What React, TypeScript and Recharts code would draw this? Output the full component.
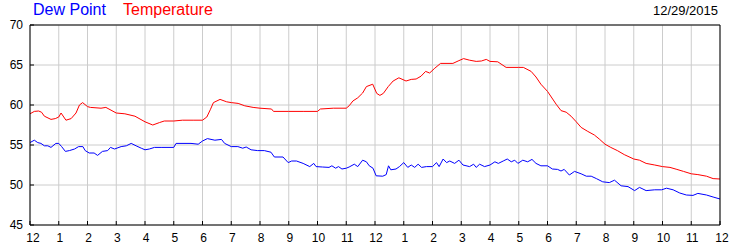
import React from 'react';
import { LineChart, Line, XAxis, YAxis, CartesianGrid } from 'recharts';

// hours after midnight, readings in °F
const tempHours = [
  0, 0.15, 0.3, 0.4, 0.5, 0.73, 0.88, 1.0, 1.08, 1.25, 1.43, 1.6, 1.72, 1.83, 2.0, 2.1, 2.47, 2.64,
  3.0, 3.3, 3.65, 4.0, 4.27, 4.5, 4.67, 5.0, 5.3, 5.7, 6.0, 6.15, 6.27, 6.38, 6.61, 6.84, 7.0, 7.24,
  7.47, 7.76, 8.0, 8.4, 8.47, 9.0, 9.5, 10.0, 10.1, 10.55, 11.0, 11.1, 11.23, 11.4, 11.57, 11.7,
  11.92, 12.06, 12.17, 12.29, 12.46, 12.63, 12.83, 13.08, 13.26, 13.43, 13.6, 13.76, 13.9, 14.08,
  14.28, 14.71, 14.89, 15.08, 15.29, 15.52, 15.7, 15.87, 16.0, 16.27, 16.56, 17.0, 17.16, 17.43,
  17.6, 17.77, 18.0, 18.3, 18.47, 18.65, 18.82, 19.0, 19.17, 19.4, 19.63, 19.8, 20.0, 20.2, 20.43,
  20.67, 21.0, 21.2, 21.43, 21.73, 22.0, 22.26, 22.5, 22.73, 23.0, 23.23, 23.53, 23.76, 24.0,
];
const tempValues = [
  58.9, 59.2, 59.25, 59.1, 58.6, 58.2, 58.3, 58.5, 59.0, 58.1, 58.3, 59.0, 60.0, 60.3, 59.8, 59.7, 59.6, 59.7,
  59.0, 58.9, 58.6, 57.9, 57.5, 57.8, 58.0, 58.0, 58.1, 58.1, 58.1, 58.5, 59.4, 60.3, 60.7, 60.4, 60.3, 60.2,
  59.9, 59.7, 59.6, 59.5, 59.2, 59.2, 59.2, 59.2, 59.5, 59.6, 59.6, 59.9, 60.5, 60.9, 61.5, 62.3,
  62.6, 61.45, 61.2, 61.45, 62.3, 63.0, 63.4, 63.0, 63.2, 63.25, 63.6, 64.2, 64.0, 64.6,
  65.2, 65.2, 65.5, 65.8, 65.6, 65.45, 65.5, 65.7, 65.45, 65.4, 64.7, 64.7, 64.7, 64.2,
  63.5, 62.6, 61.7, 60.1, 59.3, 59.1, 58.6, 57.9, 57.2, 56.7, 56.25, 55.75, 55.1, 54.7, 54.3,
  53.8, 53.25, 53.1, 52.7, 52.5, 52.3, 52.2, 51.95, 51.7, 51.4, 51.3, 51.1, 50.8, 50.75,
];

const dewHours = [
  0, 0.15, 0.27, 0.38, 0.5, 0.62, 0.73, 0.9, 1.0, 1.1, 1.23, 1.37, 1.55, 1.69, 1.84, 1.92, 2.06, 2.23,
  2.35, 2.52, 2.7, 2.8, 2.94, 3.17, 3.35, 3.52, 3.69, 3.87, 4.0, 4.15, 4.33, 4.56, 5.0, 5.08, 5.6,
  5.85, 6.0, 6.17, 6.43, 6.66, 6.77, 7.0, 7.23, 7.4, 7.52, 7.69, 7.92, 8.15, 8.38, 8.5, 8.8, 8.98,
  9.1, 9.27, 9.5, 9.73, 9.87, 9.95, 10.17, 10.4, 10.5, 10.63, 10.73, 10.85, 11.0, 11.1, 11.28, 11.4,
  11.57, 11.7, 11.8, 11.93, 12.04, 12.27, 12.39, 12.47, 12.55, 12.73, 12.85, 13.0, 13.14, 13.26,
  13.38, 13.5, 13.62, 13.79, 14.0, 14.14, 14.23, 14.37, 14.49, 14.6, 14.77, 14.92, 15.06, 15.29,
  15.43, 15.52, 15.64, 15.81, 16.0, 16.17, 16.29, 16.46, 16.6, 16.74, 16.86, 16.97, 17.14, 17.31,
  17.46, 17.6, 17.77, 18.0, 18.17, 18.35, 18.47, 18.58, 18.76, 18.94, 19.17, 19.35, 19.52, 19.7,
  19.92, 20.15, 20.33, 20.56, 20.8, 21.03, 21.2, 21.43, 21.73, 21.97, 22.14, 22.37, 22.6, 22.83,
  23.06, 23.23, 23.53, 23.76, 24.0,
];
const dewValues = [
  55.3, 55.6, 55.3, 55.2, 54.9, 54.9, 54.7, 55.2, 55.2, 54.8, 54.2, 54.3, 54.5, 54.8, 54.8, 54.3, 54.0, 54.0,
  53.7, 54.2, 54.3, 54.7, 54.5, 54.8, 54.9, 55.2, 54.9, 54.6, 54.4, 54.5, 54.7, 54.7, 54.7, 55.2, 55.2,
  55.1, 55.5, 55.8, 55.6, 55.7, 55.2, 54.8, 54.8, 54.6, 54.75, 54.4, 54.3, 54.3, 54.1, 53.5, 53.5, 52.8,
  53.0, 53.0, 52.7, 52.3, 52.7, 52.3, 52.25, 52.2, 52.4, 52.1, 52.3, 52.0, 52.1, 52.25, 52.6, 52.3,
  53.1, 52.9, 52.4, 52.1, 51.15, 51.1, 51.3, 52.4, 51.9, 52.0, 52.3, 52.8, 52.2, 52.5,
  52.2, 52.6, 52.2, 52.3, 52.3, 52.8, 52.3, 53.25, 52.8, 53.0, 52.7, 53.1, 52.5, 52.3,
  52.6, 52.2, 52.6, 52.3, 52.5, 52.9, 52.7, 53.0, 53.25, 52.9, 53.1, 52.7, 53.1, 52.9,
  53.2, 52.7, 52.4, 52.4, 52.0, 51.95, 51.75, 51.95, 51.25, 51.7, 51.4, 51.1, 51.1, 50.8,
  50.4, 50.3, 50.6, 49.9, 49.8, 49.3, 49.7, 49.3, 49.4, 49.4, 49.6, 49.4, 49.0, 48.75,
  48.7, 48.95, 48.75, 48.5, 48.25,
];

const hourTicks = [0, 1, 2, 3, 4, 5, 6, 7, 8, 9, 10, 11, 12, 13, 14, 15, 16, 17, 18, 19, 20, 21, 22, 23, 24];
const hourLabels = ['12', '1', '2', '3', '4', '5', '6', '7', '8', '9', '10', '11', '12', '1', '2', '3', '4', '5', '6', '7', '8', '9', '10', '11', '12'];
const tempTicks = [45, 50, 55, 60, 65, 70];
const dateLabel = '12/29/2015';

const FONT = '"Liberation Sans", Arial, sans-serif';

const tempData = tempHours.map((h, i) => ({ h, v: tempValues[i] }));
const dewData = dewHours.map((h, i) => ({ h, v: dewValues[i] }));

function BottomTick({ x, y, payload }: any) {
  const i = hourTicks.indexOf(payload.value);
  // end labels sit a little inside the frame
  const nudge = i === 0 ? 3 : i === hourTicks.length - 1 ? 2 : 1;
  return (
    <g>
      <line x1={x} y1={y} x2={x} y2={y - 4} stroke="#000" />
      <text x={x + nudge} y={y + 17} textAnchor="middle" fontSize={12} fontFamily={FONT} fill="#000">
        {hourLabels[i]}
      </text>
    </g>
  );
}

function TopTick({ x, y }: any) {
  return <line x1={x} y1={y} x2={x} y2={y + 4} stroke="#000" />;
}

function LeftTick({ x, y, payload }: any) {
  return (
    <g>
      <line x1={x} y1={y} x2={x + 4} y2={y} stroke="#000" />
      <text x={x - 7} y={y + 4} textAnchor="end" fontSize={12} fontFamily={FONT} fill="#000">
        {payload.value}
      </text>
    </g>
  );
}

function RightTick({ x, y, payload }: any) {
  return (
    <g>
      <line x1={x} y1={y} x2={x - 5} y2={y} stroke="#000" />
      <text x={x + 8} y={y + 4} textAnchor="start" fontSize={12} fontFamily={FONT} fill="#000">
        {payload.value}
      </text>
    </g>
  );
}

export default function App() {
  return (
    <div style={{ position: 'absolute', left: 0, top: 0, width: 750, height: 250, background: '#fff', fontFamily: FONT }}>
      <LineChart width={750} height={250} margin={{ top: 0, right: 0, bottom: 0, left: 0 }}>
        <CartesianGrid stroke="#cccccc" />
        <XAxis
          dataKey="h"
          type="number"
          domain={[0, 24]}
          ticks={hourTicks}
          interval={0}
          height={25}
          tickSize={0}
          tickMargin={0}
          tickLine={false}
          axisLine={{ stroke: '#000' }}
          tick={<BottomTick />}
        />
        <XAxis
          xAxisId="top"
          orientation="top"
          dataKey="h"
          type="number"
          domain={[0, 24]}
          ticks={hourTicks}
          interval={0}
          height={25}
          tickSize={0}
          tickMargin={0}
          tickLine={false}
          axisLine={{ stroke: '#000' }}
          tick={<TopTick />}
        />
        <YAxis
          type="number"
          domain={[45, 70]}
          ticks={tempTicks}
          interval={0}
          width={30}
          tickSize={0}
          tickMargin={0}
          tickLine={false}
          axisLine={{ stroke: '#000' }}
          tick={<LeftTick />}
        />
        <YAxis
          yAxisId="right"
          orientation="right"
          type="number"
          domain={[45, 70]}
          ticks={tempTicks}
          interval={0}
          width={30}
          tickSize={0}
          tickMargin={0}
          tickLine={false}
          axisLine={{ stroke: '#000' }}
          tick={<RightTick />}
        />
        <Line data={tempData} dataKey="v" type="linear" stroke="#ff0000" strokeWidth={1} dot={false} isAnimationActive={false} />
        <Line data={dewData} dataKey="v" type="linear" stroke="#0000ff" strokeWidth={1} dot={false} isAnimationActive={false} />
      </LineChart>
      <div style={{ position: 'absolute', left: 33, top: 1, fontSize: 16, color: '#0000ff', whiteSpace: 'nowrap' }}>Dew Point</div>
      <div style={{ position: 'absolute', left: 123, top: 1, fontSize: 16, color: '#ff0000', whiteSpace: 'nowrap' }}>Temperature</div>
      <div style={{ position: 'absolute', right: 32, top: 3, fontSize: 13, color: '#000', whiteSpace: 'nowrap' }}>{dateLabel}</div>
    </div>
  );
}
